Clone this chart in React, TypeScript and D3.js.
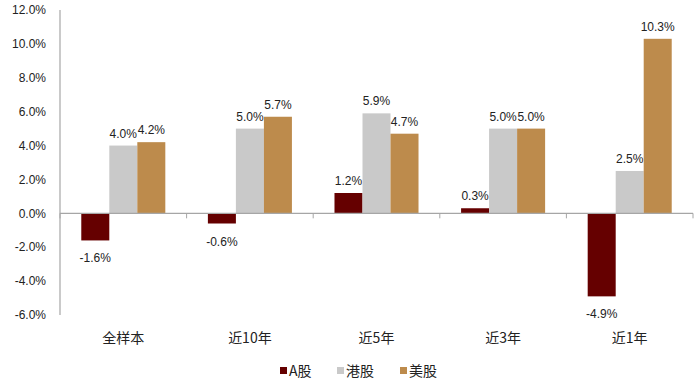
import React, { useEffect, useRef } from 'react';
import * as d3 from 'd3';

const categories = ['全样本', '近10年', '近5年', '近3年', '近1年'];
const seriesNames = ['A股', '港股', '美股'];
const aShares = [-1.6, -0.6, 1.2, 0.3, -4.9];
const hkShares = [4.0, 5.0, 5.9, 5.0, 2.5];
const usShares = [4.2, 5.7, 4.7, 5.0, 10.3];
const yTicks = [-6, -4, -2, 0, 2, 4, 6, 8, 10, 12];
const colors = ['#650000', '#c9c9c9', '#bd8b4c'];

const App = () => {
  const ref = useRef<SVGSVGElement>(null);

  useEffect(() => {
    const svg = d3.select(ref.current);
    svg.selectAll('*').remove();
    const font = '"Liberation Sans", Arial, sans-serif';
    const cjk = '"Noto Sans CJK SC", sans-serif';

    const left = 60, right = 693, top = 10, bottom = 315;
    const x = d3.scaleBand().domain(categories).range([left, right]).paddingInner(0).paddingOuter(0);
    const y = d3.scaleLinear().domain([-6, 12]).range([bottom, top]);
    const inner = d3.scaleBand().domain(seriesNames).range([0, x.bandwidth()]).paddingOuter(0.76).paddingInner(0);

    const series = [aShares, hkShares, usShares];

    // y axis
    svg.append('line').attr('x1', left).attr('x2', left).attr('y1', top).attr('y2', bottom)
      .attr('stroke', '#a6a6a6').attr('stroke-width', 1.2);
    svg.selectAll('.ytick').data(yTicks).enter().append('text')
      .attr('x', 46).attr('y', (d) => y(d)).attr('dy', '0.35em')
      .attr('text-anchor', 'end').attr('font-family', font).attr('font-size', 12).attr('fill', '#222')
      .text((d) => d.toFixed(1) + '%');

    // bars
    const g = svg.append('g');
    series.forEach((vals, si) => {
      g.selectAll('.bar' + si).data(vals).enter().append('rect')
        .attr('x', (d, i) => (x(categories[i]) as number) + (inner(seriesNames[si]) as number))
        .attr('width', inner.bandwidth())
        .attr('y', (d) => y(Math.max(0, d)))
        .attr('height', (d) => Math.abs(y(d) - y(0)))
        .attr('fill', colors[si]);
      g.selectAll('.lbl' + si).data(vals).enter().append('text')
        .attr('x', (d, i) => (x(categories[i]) as number) + (inner(seriesNames[si]) as number) + inner.bandwidth() / 2)
        .attr('y', (d) => (d >= 0 ? y(d) - 8 : y(d) + 22))
        .attr('text-anchor', 'middle').attr('font-family', font).attr('font-size', 12).attr('fill', '#222')
        .text((d) => d.toFixed(1) + '%');
    });

    // x axis
    svg.append('line').attr('x1', left).attr('x2', right).attr('y1', y(0)).attr('y2', y(0))
      .attr('stroke', '#a6a6a6').attr('stroke-width', 1.2);
    const edges = categories.map((c) => x(c) as number).concat([right]);
    svg.selectAll('.xtick').data(edges).enter().append('line')
      .attr('x1', (d) => d).attr('x2', (d) => d).attr('y1', y(0)).attr('y2', y(0) + 5)
      .attr('stroke', '#a6a6a6');
    svg.selectAll('.xlabel').data(categories).enter().append('text')
      .attr('x', (d) => (x(d) as number) + x.bandwidth() / 2).attr('y', 338).attr('dy', '0.35em')
      .attr('text-anchor', 'middle').attr('font-family', cjk).attr('font-size', 14).attr('fill', '#222')
      .text((d) => d);

    // legend
    const legendX = [280, 337, 400];
    seriesNames.forEach((s, i) => {
      svg.append('rect').attr('x', legendX[i]).attr('y', 367).attr('width', 7).attr('height', 7).attr('fill', colors[i]);
      svg.append('text').attr('x', legendX[i] + 9).attr('y', 371).attr('dy', '0.35em')
        .attr('font-family', cjk).attr('font-size', 14).attr('fill', '#222').text(s);
    });
  }, []);

  return (
    <svg ref={ref} width={700} height={390} style={{ position: 'absolute', left: 0, top: 0, background: '#fff' }} />
  );
};

export default App;
